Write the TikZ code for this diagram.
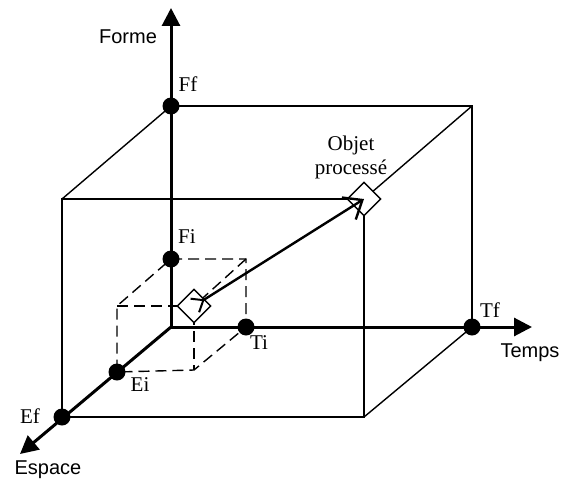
\documentclass[tikz,border=0pt]{standalone}
\usepackage{fontspec}
\setmainfont{Liberation Serif}
\setsansfont{Liberation Sans}
\usetikzlibrary{arrows.meta, shapes.geometric}

\begin{document}
\begin{tikzpicture}[
    x=0.5pt, y=-0.5pt,
    dot/.style={circle, fill=black, minimum size=8.5pt, inner sep=0pt},
    tag/.style={font=\fontsize{10.5}{12}\selectfont, inner sep=1pt},
    axislabel/.style={font=\sffamily\fontsize{10}{12}\selectfont, inner sep=1pt},
    axis/.style={line width=1.5pt, -{Triangle[length=9pt, width=9pt]}},
    rim/.style={line width=0.7pt},
    hid/.style={line width=0.7pt, dash pattern=on 5.5pt off 3pt},
    box/.style={diamond, draw, line width=0.7pt, fill=white, minimum size=17pt, inner sep=0pt},
]
    \useasboundingbox (0,0) rectangle (561,481);

    % Corners of the big and the small cube
    \coordinate (O) at (171,327);
    \coordinate (B) at (472,106);
    \coordinate (A1) at (62,199);
    \coordinate (A2) at (364,199);
    \coordinate (A3) at (364,417);
    \coordinate (s1) at (246,259);
    \coordinate (s2) at (117,306);
    \coordinate (s3) at (194,306);
    \coordinate (s4) at (194,370);

    % Axis ends
    \coordinate (Fend) at (171,8);
    \coordinate (Tend) at (532,327);
    \coordinate (Eend) at (20,454);

    % Points on the axes
    \node[dot] (Ff) at (171,106) {};
    \node[dot] (Fi) at (171,259) {};
    \node[dot] (Ti) at (246,327) {};
    \node[dot] (Tf) at (472,327) {};
    \node[dot] (Ei) at (117,372) {};
    \node[dot] (Ef) at (62,417) {};

    % Big cube
    \draw[rim] (Ff.center) -- (B) -- (Tf.center);
    \draw[rim] (A1) -- (A2) -- (A3) -- (Ef.center) -- cycle;
    \draw[rim] (Ff.center) -- (A1);
    \draw[rim] (B) -- (A2);
    \draw[rim] (Tf.center) -- (A3);

    % Small cube, dashed
    \draw[hid] (Fi.center) -- (s1) -- (Ti.center) -- (s4) -- (Ei.center) -- (s2) -- cycle;
    \draw[hid] (s2) -- (s3) -- (s4);
    \draw[hid] (s1) -- (s3);

    % Axes
    \draw[axis] (O) -- (Fend);
    \draw[axis] (O) -- (Tend);
    \draw[axis] (O) -- (Eend);

    % Processed object
    \node[box] (start) at (s3) {};
    \node[box] (goal) at (A2) {};
    \draw[line width=1.2pt, {Straight Barb[reversed, length=5pt, width=8pt, line width=1pt]}-{Straight Barb[length=8pt, width=13pt, line width=1.2pt]}]
        (start.center) -- (goal.center);

    % Labels
    \node[axislabel] (forme) at (128,37) {Forme};
    \node[axislabel] (temps) at (530,353) {Temps};
    \node[axislabel] (espace) at (48,470) {Espace};
    \node[tag] (lFf) at (188,84) {Ff};
    \node[tag] (lFi) at (187,237) {Fi};
    \node[tag] (lTi) at (259,343) {Ti};
    \node[tag] (lTf) at (490,310) {Tf};
    \node[tag] (lEi) at (140,385) {Ei};
    \node[tag] (lEf) at (30,416) {Ef};
    \node[tag, align=center] (objet) at (351,157) {Objet\\processé};
\end{tikzpicture}
\end{document}
